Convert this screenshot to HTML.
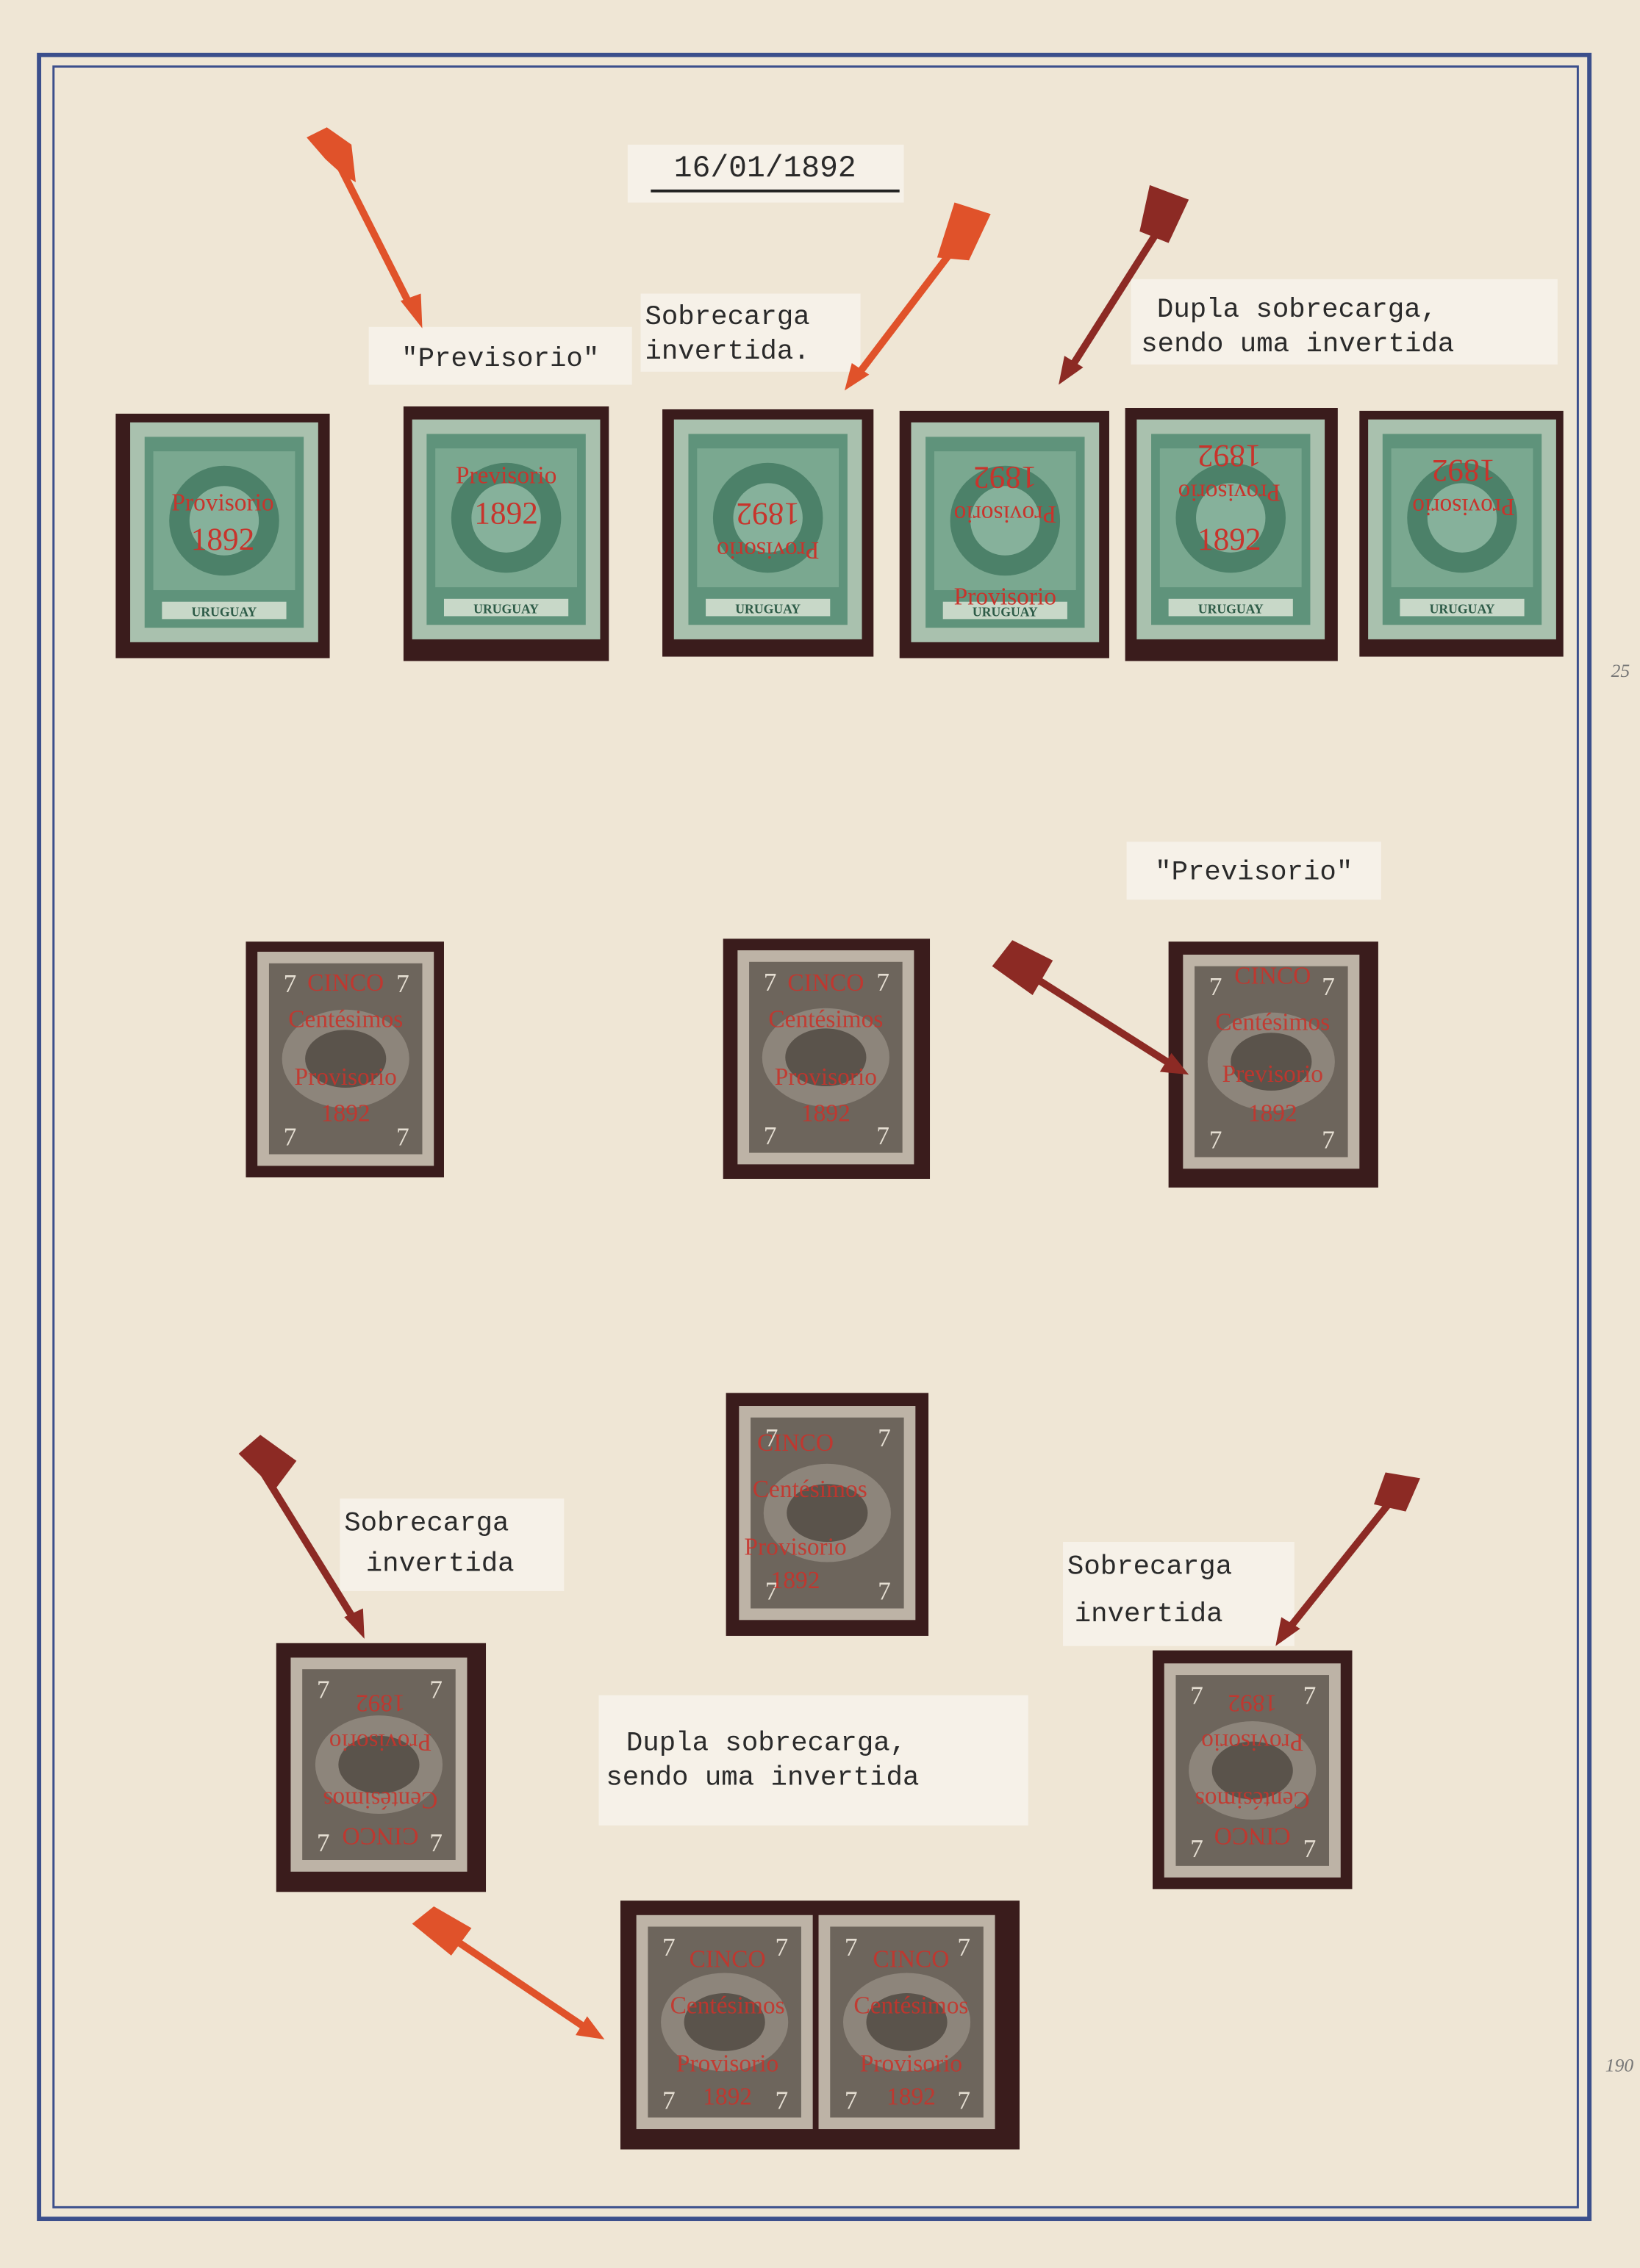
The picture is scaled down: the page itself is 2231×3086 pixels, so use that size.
<!DOCTYPE html>
<html><head><meta charset="utf-8"><style>
html,body{margin:0;padding:0;background:#efe6d5;}
svg{display:block}
</style></head><body>
<svg width="2231" height="3086" viewBox="0 0 1134 1568" preserveAspectRatio="none" xmlns="http://www.w3.org/2000/svg">
<defs>
<g id="gstamp">
  <rect x="0" y="0" width="130" height="152" fill="#a9c1ae"/>
  <rect x="10" y="10" width="110" height="132" fill="#5f937b"/>
  <rect x="16" y="20" width="98" height="96" fill="#7aa890"/>
  <circle cx="65" cy="68" r="38" fill="#4c8169"/>
  <circle cx="65" cy="68" r="24" fill="#86b19b"/>
  <rect x="22" y="124" width="86" height="12" fill="#c8d8c8"/>
  <text x="65" y="134" font-family="Liberation Serif,serif" font-size="9" text-anchor="middle" fill="#2e5c48" font-weight="bold">URUGUAY</text>
</g>
<g id="bstamp">
  <rect x="0" y="0" width="122" height="148" fill="#bdb3a6"/>
  <rect x="8" y="8" width="106" height="132" fill="#6d655c"/>
  <ellipse cx="61" cy="74" rx="44" ry="34" fill="#8d857b"/>
  <ellipse cx="61" cy="74" rx="28" ry="20" fill="#5a534b"/>
  <text x="18" y="28" font-family="Liberation Serif,serif" font-size="18" fill="#e5ded2">7</text>
  <text x="96" y="28" font-family="Liberation Serif,serif" font-size="18" fill="#e5ded2">7</text>
  <text x="18" y="134" font-family="Liberation Serif,serif" font-size="18" fill="#e5ded2">7</text>
  <text x="96" y="134" font-family="Liberation Serif,serif" font-size="18" fill="#e5ded2">7</text>
</g>
</defs>
<rect width="1134" height="1568" fill="#efe6d5"/>
<rect x="27" y="38" width="1072" height="1496" fill="none" stroke="#3b4f8c" stroke-width="3"/>
<rect x="37" y="46" width="1054" height="1480" fill="none" stroke="#3b4f8c" stroke-width="1.5"/>

<g font-family="Liberation Mono,monospace" fill="#2a2a2a">
<rect x="434" y="100" width="191" height="40" fill="#f6f1e8"/>
<text x="529" y="122" font-size="21" text-anchor="middle">16/01/1892</text>
<line x1="450" y1="132" x2="622" y2="132" stroke="#222" stroke-width="2"/>
<rect x="255" y="226" width="182" height="40" fill="#f6f1e8"/>
<text x="346" y="253" font-size="19" text-anchor="middle">"Previsorio"</text>
<rect x="443" y="203" width="152" height="54" fill="#f6f1e8"/>
<text x="446" y="224" font-size="19">Sobrecarga</text>
<text x="446" y="248" font-size="19">invertida.</text>
<rect x="782" y="193" width="295" height="59" fill="#f6f1e8"/>
<text x="800" y="219" font-size="19">Dupla sobrecarga,</text>
<text x="789" y="243" font-size="19">sendo uma invertida</text>
<rect x="779" y="582" width="176" height="40" fill="#f6f1e8"/>
<text x="867" y="608" font-size="19" text-anchor="middle">"Previsorio"</text>
<rect x="235" y="1036" width="155" height="64" fill="#f6f1e8"/>
<text x="238" y="1058" font-size="19">Sobrecarga</text>
<text x="253" y="1086" font-size="19">invertida</text>
<rect x="735" y="1066" width="160" height="72" fill="#f6f1e8"/>
<text x="738" y="1088" font-size="19">Sobrecarga</text>
<text x="743" y="1121" font-size="19">invertida</text>
<rect x="414" y="1172" width="297" height="90" fill="#f6f1e8"/>
<text x="433" y="1210" font-size="19">Dupla sobrecarga,</text>
<text x="419" y="1234" font-size="19">sendo uma invertida</text>
</g>

<!-- green row -->
<g>
<rect x="80" y="286" width="148" height="169" fill="#3a1c1c"/><use href="#gstamp" x="90" y="292" transform="translate(0,0)"/>
<rect x="279" y="281" width="142" height="176" fill="#3a1c1c"/><use href="#gstamp" x="285" y="290"/>
<rect x="458" y="283" width="146" height="171" fill="#3a1c1c"/><use href="#gstamp" x="466" y="290"/>
<rect x="622" y="284" width="145" height="171" fill="#3a1c1c"/><use href="#gstamp" x="630" y="292"/>
<rect x="778" y="282" width="147" height="175" fill="#3a1c1c"/><use href="#gstamp" x="786" y="290"/>
<rect x="940" y="284" width="141" height="170" fill="#3a1c1c"/><use href="#gstamp" x="946" y="290"/>
</g>
<g font-family="Liberation Serif,serif" fill="#c8342c" font-size="17" text-anchor="middle">
<text x="154" y="353">Provisorio</text><text x="154" y="380" font-size="22">1892</text>
<text x="350" y="334">Previsorio</text><text x="350" y="362" font-size="22">1892</text>
<g transform="rotate(180 531 370)"><text x="531" y="365">Provisorio</text><text x="531" y="392" font-size="22">1892</text></g>
<g transform="rotate(180 695 345)"><text x="695" y="340">Provisorio</text><text x="695" y="367" font-size="22">1892</text></g>
<text x="695" y="418">Provisorio</text>
<g transform="rotate(180 850 330)"><text x="850" y="325">Provisorio</text><text x="850" y="352" font-size="22">1892</text></g>
<text x="850" y="380" font-size="22">1892</text>
<g transform="rotate(180 1012 340)"><text x="1012" y="335">Provisorio</text><text x="1012" y="362" font-size="22">1892</text></g>
</g>

<!-- brown -->
<rect x="170" y="651" width="137" height="163" fill="#3a1c1c"/><use href="#bstamp" x="178" y="658"/>
<rect x="500" y="649" width="143" height="166" fill="#3a1c1c"/><use href="#bstamp" x="510" y="657"/>
<rect x="808" y="651" width="145" height="170" fill="#3a1c1c"/><use href="#bstamp" x="818" y="660"/>
<rect x="502" y="963" width="140" height="168" fill="#3a1c1c"/><use href="#bstamp" x="511" y="972"/>
<rect x="191" y="1136" width="145" height="172" fill="#3a1c1c"/><use href="#bstamp" x="201" y="1146"/>
<rect x="797" y="1141" width="138" height="165" fill="#3a1c1c"/><use href="#bstamp" x="805" y="1150"/>
<rect x="429" y="1314" width="276" height="172" fill="#3a1c1c"/>
<use href="#bstamp" x="440" y="1324"/><use href="#bstamp" x="566" y="1324"/>
<g font-family="Liberation Serif,serif" fill="#c8342c" font-size="17" text-anchor="middle" opacity="0.9">
<text x="239" y="685">CINCO</text><text x="239" y="710">Centésimos</text><text x="239" y="750">Provisorio</text><text x="239" y="775">1892</text>
<text x="571" y="685">CINCO</text><text x="571" y="710">Centésimos</text><text x="571" y="750">Provisorio</text><text x="571" y="775">1892</text>
<text x="880" y="680">CINCO</text><text x="880" y="712">Centésimos</text><text x="880" y="748">Previsorio</text><text x="880" y="775">1892</text>
<text x="550" y="1003">CINCO</text><text x="560" y="1035">Centésimos</text><text x="550" y="1075">Provisorio</text><text x="550" y="1098">1892</text>
<g transform="rotate(180 263 1222)"><text x="263" y="1180">CINCO</text><text x="263" y="1205">Centésimos</text><text x="263" y="1245">Provisorio</text><text x="263" y="1272">1892</text></g>
<g transform="rotate(180 866 1222)"><text x="866" y="1180">CINCO</text><text x="866" y="1205">Centésimos</text><text x="866" y="1245">Provisorio</text><text x="866" y="1272">1892</text></g>
<text x="503" y="1360">CINCO</text><text x="503" y="1392">Centésimos</text><text x="503" y="1432">Provisorio</text><text x="503" y="1455">1892</text>
<text x="630" y="1360">CINCO</text><text x="630" y="1392">Centésimos</text><text x="630" y="1432">Provisorio</text><text x="630" y="1455">1892</text>
</g>

<!-- arrows -->
<g stroke-linecap="round">
<g fill="#e0522a" stroke="#e0522a">
<line x1="230" y1="105" x2="284" y2="212" stroke-width="5"/>
<polygon points="292,227 277,208 291,203" stroke="none"/>
<polygon points="212,95 226,88 243,100 246,126 236,120 225,110" stroke="none"/>
<line x1="670" y1="158" x2="594" y2="258" stroke-width="5"/>
<polygon points="584,270 589,251 601,259" stroke="none"/>
<polygon points="660,140 685,148 670,180 648,178" stroke="none"/>
<line x1="298" y1="1330" x2="405" y2="1402" stroke-width="5"/>
<polygon points="418,1410 398,1407 406,1394" stroke="none"/>
<polygon points="285,1330 300,1318 326,1333 312,1352" stroke="none"/>
</g>
<g fill="#8c2a24" stroke="#8c2a24">
<line x1="808" y1="148" x2="742" y2="252" stroke-width="5"/>
<polygon points="732,266 736,246 749,254" stroke="none"/>
<polygon points="795,128 822,138 808,168 788,160" stroke="none"/>
<line x1="703" y1="668" x2="810" y2="736" stroke-width="5"/>
<polygon points="822,743 802,741 810,728" stroke="none"/>
<polygon points="686,668 700,650 728,664 714,688" stroke="none"/>
<line x1="180" y1="1015" x2="245" y2="1120" stroke-width="5"/>
<polygon points="252,1133 238,1118 251,1112" stroke="none"/>
<polygon points="165,1005 180,992 205,1010 190,1030" stroke="none"/>
<line x1="968" y1="1030" x2="892" y2="1125" stroke-width="5"/>
<polygon points="882,1138 886,1118 899,1126" stroke="none"/>
<polygon points="958,1018 982,1022 972,1045 950,1040" stroke="none"/>
</g>
</g>
<text x="1114" y="468" font-family="Liberation Serif,serif" font-style="italic" font-size="13" fill="#777">25</text>
<text x="1110" y="1432" font-family="Liberation Serif,serif" font-style="italic" font-size="13" fill="#777">190</text>
</svg>
</body></html>
